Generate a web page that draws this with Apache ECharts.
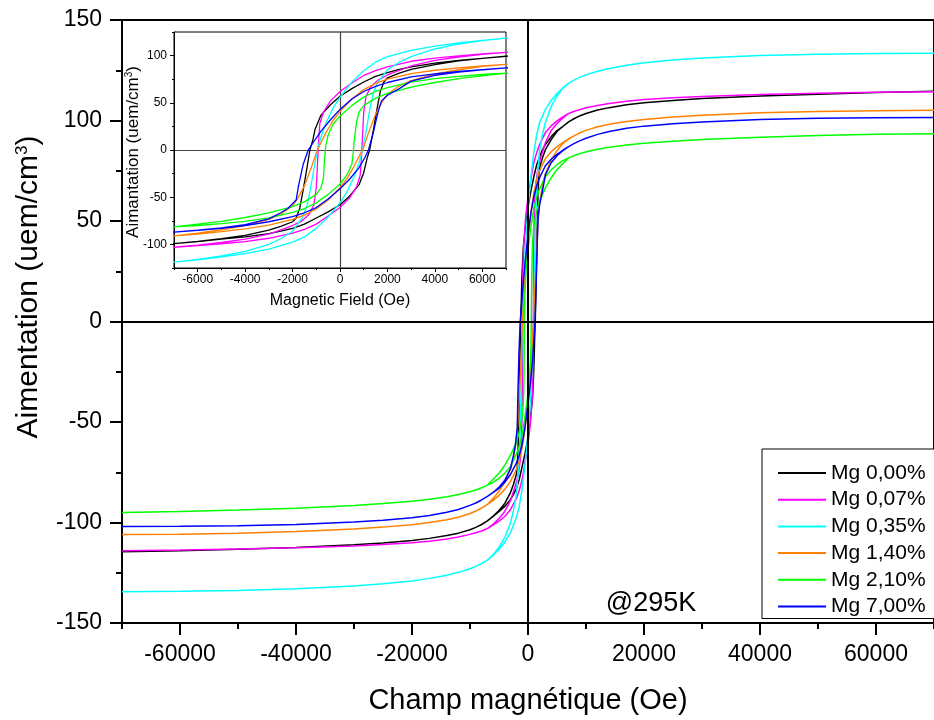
<!DOCTYPE html>
<html><head><meta charset="utf-8">
<script src="https://cdn.jsdelivr.net/npm/echarts@6/dist/echarts.min.js"></script>
<style>html,body{margin:0;padding:0;background:#fff}#c{width:934px;height:720px}</style>
</head><body><div id="c"></div>
<script>
// ---- data ----
const seriesNames = ['Mg 0,00%', 'Mg 0,07%', 'Mg 0,35%', 'Mg 1,40%', 'Mg 2,10%', 'Mg 7,00%'];

// high-field field values (Oe), shared by both branches
const hiField = [7000, 8000, 9000, 10000, 12000, 14000, 17000, 20000, 25000, 30000, 40000, 50000, 60000, 70000];
// magnetization at +hiField and at -hiField (uem/cm3)
const mg000_pos = [99.3, 101, 102.4, 103.5, 105.2, 106.4, 107.8, 108.8, 110, 110.9, 112.2, 113.1, 113.9, 114.5];
const mg000_neg = [-99.2, -101, -102.4, -103.6, -105.3, -106.5, -107.9, -108.9, -110.2, -111.1, -112.4, -113.3, -114, -114.5];
const mg007_pos = [103.5, 104.6, 105.5, 106.3, 107.5, 108.5, 109.6, 110.4, 111.3, 112, 112.9, 113.5, 114, 114.3];
const mg007_neg = [-103, -104.2, -105.1, -105.9, -107.2, -108.2, -109.3, -110.1, -111, -111.7, -112.6, -113.2, -113.7, -114];
const mg035_pos = [118.5, 120.2, 121.6, 122.7, 124.5, 125.9, 127.5, 128.7, 130.1, 131.1, 132.4, 133, 133.3, 133.5];
const mg035_neg = [-118.7, -120.4, -121.8, -123, -124.8, -126.2, -127.8, -129.1, -130.5, -131.6, -133, -133.8, -134.2, -134.5];
const mg140_pos = [90.8, 92.5, 93.9, 95.1, 96.9, 98.1, 99.5, 100.5, 101.7, 102.6, 103.8, 104.5, 104.9, 105.1];
const mg140_neg = [-91, -92.8, -94.3, -95.5, -97.4, -98.6, -100, -101.1, -102.3, -103.2, -104.5, -105.3, -105.8, -106];
const mg210_pos = [81.4, 82.6, 83.6, 84.4, 85.7, 86.7, 87.8, 88.7, 89.7, 90.5, 91.7, 92.5, 93.1, 93.4];
const mg210_neg = [-81.4, -82.7, -83.8, -84.7, -86.1, -87.2, -88.4, -89.4, -90.6, -91.5, -92.9, -93.8, -94.5, -95];
const mg700_pos = [87, 88.6, 90, 91.2, 93.1, 94.5, 96.1, 97.2, 98.4, 99.3, 100.5, 101.1, 101.4, 101.5];
const mg700_neg = [-87, -88.8, -90.3, -91.5, -93.5, -94.9, -96.5, -97.6, -98.9, -99.8, -101, -101.6, -101.9, -102];

// low-field branches [field, magnetization]: descending (from +6000) and ascending (from -6000)
const mg000_down = [[6000,97],[5000,95],[4000,92],[3000,88],[2500,85.5],[2000,82],[1500,78],[1000,72],[500,65],[0,57],[-400,48],[-800,37],[-1050,22],[-1150,10],[-1270,0],[-1400,-20],[-1550,-42],[-1700,-62],[-1850,-72],[-2000,-76],[-2500,-81],[-3000,-85],[-4000,-90.5],[-5000,-94],[-6000,-96.8]];
const mg000_up = [[-6000,-97],[-5000,-94.5],[-4000,-92],[-3000,-88.5],[-2500,-86],[-2000,-83],[-1500,-78.5],[-1000,-72],[-500,-65.5],[0,-58],[400,-49],[800,-37],[1000,-24],[1150,-8],[1250,0],[1400,20],[1550,42],[1700,62],[1850,72],[2000,76.5],[2500,81.5],[3000,85.5],[4000,90.5],[5000,94.5],[6000,97]];
const mg007_down = [[6000,101.8],[5000,99.8],[4000,97.3],[3000,94],[2000,88],[1500,84],[1000,79],[500,71],[0,62],[-400,52],[-700,40],[-850,28],[-900,10],[-950,-15],[-1000,-40],[-1100,-58],[-1300,-68],[-1600,-75],[-2000,-80],[-3000,-89],[-4000,-94.5],[-5000,-98],[-6000,-100.8]];
const mg007_up = [[-6000,-101.2],[-5000,-99.3],[-4000,-97],[-3000,-93.5],[-2000,-88],[-1500,-84],[-1000,-78.5],[-500,-70],[0,-61],[400,-51],[700,-39],[850,-27],[900,-10],[950,15],[1000,40],[1100,57],[1300,67],[1600,74],[2000,79.5],[3000,89],[4000,95],[5000,98.5],[6000,101.2]];
const mg035_down = [[6000,116.2],[5000,113.4],[4000,110],[3000,105.5],[2000,99],[1500,93],[1000,84],[500,72],[0,56],[-300,44],[-600,28],[-800,14],[-950,0],[-1100,-20],[-1250,-42],[-1400,-60],[-1600,-72],[-2000,-86],[-2500,-94],[-3000,-100],[-4000,-107.5],[-5000,-112.3],[-6000,-116]];
const mg035_up = [[-6000,-116.3],[-5000,-113.3],[-4000,-109.8],[-3000,-105],[-2000,-97.5],[-1500,-92],[-1000,-83],[-500,-71],[0,-56],[300,-44],[600,-28],[800,-14],[950,0],[1100,20],[1250,42],[1400,60],[1600,72],[2000,85],[2500,93],[3000,99],[4000,107],[5000,112.3],[6000,116]];
const mg140_down = [[6000,89],[5000,87],[4000,84.5],[3000,81],[2000,75],[1500,70.5],[1000,64],[500,54],[0,41],[-300,31],[-600,18],[-800,8],[-1000,-3],[-1200,-18],[-1500,-38],[-1800,-52],[-2000,-59],[-2500,-68],[-3000,-73.5],[-4000,-80],[-5000,-84.5],[-6000,-88]];
const mg140_up = [[-6000,-89],[-5000,-86.5],[-4000,-83.5],[-3000,-79.5],[-2000,-73.5],[-1500,-69],[-1000,-62.5],[-500,-53],[0,-40],[300,-30],[600,-17],[800,-7],[1000,3],[1200,18],[1500,38],[1800,52],[2000,59],[2500,68],[3000,73.5],[4000,80.5],[5000,85],[6000,88.5]];
const mg210_down = [[6000,80],[5000,78],[4000,75.5],[3000,72],[2000,66],[1500,62],[1000,56],[500,47],[0,36],[-300,27],[-500,16],[-600,5],[-650,-10],[-700,-30],[-800,-40],[-1000,-47],[-1500,-55],[-2000,-60],[-3000,-66.5],[-4000,-71.5],[-5000,-75.5],[-6000,-78.5]];
const mg210_up = [[-6000,-80],[-5000,-78],[-4000,-75.5],[-3000,-72],[-2000,-66],[-1500,-62],[-1000,-56],[-500,-47],[0,-36],[300,-26],[500,-15],[550,-5],[600,10],[700,30],[800,40],[1000,47],[1500,55],[2000,60],[3000,66.5],[4000,71.5],[5000,75.5],[6000,78.5]];
const mg700_down = [[6000,85.2],[5000,83.2],[4000,80.7],[3000,77.5],[2000,71.5],[1500,67.5],[1000,62],[500,54],[0,43],[-400,32],[-800,20],[-1100,9],[-1340,0],[-1550,-15],[-1750,-38],[-1850,-53],[-2200,-62],[-2500,-66.5],[-3000,-73],[-4000,-79],[-5000,-82.5],[-6000,-85]];
const mg700_up = [[-6000,-85],[-5000,-83],[-4000,-80],[-3000,-76],[-2000,-70.5],[-1500,-66.5],[-1000,-61],[-500,-52],[0,-41],[400,-31],[800,-19],[1050,-8],[1200,0],[1400,18],[1600,40],[1750,52],[2000,58],[2500,65],[3000,73],[4000,79],[5000,82.5],[6000,85]];

// ---- tick values ----
const mainXMajor = [-60000, -40000, -20000, 0, 20000, 40000, 60000];
const mainXMinor = [-70000, -50000, -30000, -10000, 10000, 30000, 50000, 70000];
const insetXMajor = [-6000, -4000, -2000, 0, 2000, 4000, 6000];
const insetXMinor = [-7000, -5000, -3000, -1000, 1000, 3000, 5000, 7000];
const insetYMajor = [-100, -50, 0, 50, 100];
const insetYMinor = [-125, -75, -25, 25, 75, 125];

// ---- build full loops: +70000 -> -70000 -> +70000 ----
function buildLoop(pos, neg, down, up) {
  const posPts = hiField.map((h, i) => [h, pos[i]]);
  const negPts = hiField.map((h, i) => [-h, neg[i]]);
  return [].concat(posPts.slice().reverse(), down, negPts, negPts.slice().reverse(), up, posPts);
}
const loops = [
  buildLoop(mg000_pos, mg000_neg, mg000_down, mg000_up),
  buildLoop(mg007_pos, mg007_neg, mg007_down, mg007_up),
  buildLoop(mg035_pos, mg035_neg, mg035_down, mg035_up),
  buildLoop(mg140_pos, mg140_neg, mg140_down, mg140_up),
  buildLoop(mg210_pos, mg210_neg, mg210_down, mg210_up),
  buildLoop(mg700_pos, mg700_neg, mg700_down, mg700_up)
];

// ---- styling ----
const colors = ['#000000', '#ff00ff', '#00ffff', '#ff8000', '#00ff00', '#0000ff'];
const FONT = '"Liberation Sans", Arial, sans-serif';
const plain = v => String(v);

const chart = echarts.init(document.getElementById('c'));

const zeroLines = (w, c) => ({
  silent: true, animation: false, symbol: ['none', 'none'], label: {show: false},
  lineStyle: {color: c, width: w, type: 'solid'}, emphasis: {disabled: true},
  data: [{xAxis: 0}, {yAxis: 0}]
});

const series = [];
loops.forEach((d, i) => {
  series.push({
    name: seriesNames[i], type: 'line', xAxisIndex: 0, yAxisIndex: 0, data: d,
    symbol: 'none', showSymbol: false, clip: true, silent: true, z: 3,
    lineStyle: {color: colors[i], width: 1.5}, itemStyle: {color: colors[i]},
    markLine: i === 0 ? zeroLines(2, '#000') : undefined
  });
});
loops.forEach((d, i) => {
  series.push({
    name: seriesNames[i], type: 'line', xAxisIndex: 2, yAxisIndex: 1, data: d,
    symbol: 'none', showSymbol: false, clip: true, silent: true, z: 6,
    lineStyle: {color: colors[i], width: 1.3}, itemStyle: {color: colors[i]},
    markLine: i === 0 ? zeroLines(1.2, '#444') : undefined
  });
});

const txt = {color: '#000', fontFamily: FONT};

chart.setOption({
  animation: false,
  backgroundColor: '#fff',
  grid: [
    {left: 122, top: 20, width: 816, height: 605, show: true, borderColor: '#000', borderWidth: 2, backgroundColor: 'transparent'},
    {left: 174, top: 32, width: 332, height: 236, show: true, borderColor: '#000', borderWidth: 1, backgroundColor: '#fff', z: 5}
  ],
  xAxis: [
    {gridIndex: 0, type: 'value', min: -70000, max: 70000, position: 'bottom',
     axisLine: {onZero: false, lineStyle: {color: '#000', width: 2}},
     axisTick: {customValues: mainXMajor, length: 12, lineStyle: {color: '#000', width: 2}},
     axisLabel: {customValues: mainXMajor, formatter: plain, ...txt, fontSize: 23, margin: 20},
     splitLine: {show: false},
     name: 'Champ magnétique (Oe)', nameLocation: 'middle', nameGap: 63,
     nameTextStyle: {...txt, fontSize: 29}},
    {gridIndex: 0, type: 'value', min: -70000, max: 70000, position: 'bottom',
     axisLine: {show: false, onZero: false},
     axisTick: {customValues: mainXMinor, length: 6, lineStyle: {color: '#000', width: 2}},
     axisLabel: {show: false}, splitLine: {show: false}},
    {gridIndex: 1, type: 'value', min: -7000, max: 7000, position: 'bottom', z: 6,
     axisLine: {onZero: false, lineStyle: {color: '#000', width: 1}},
     axisTick: {customValues: insetXMajor, length: 4, lineStyle: {color: '#000', width: 1}},
     axisLabel: {customValues: insetXMajor, formatter: plain, ...txt, fontSize: 12, margin: 6},
     splitLine: {show: false},
     name: 'Magnetic Field (Oe)', nameLocation: 'middle', nameGap: 25,
     nameTextStyle: {...txt, fontSize: 16}},
    {gridIndex: 1, type: 'value', min: -7000, max: 7000, position: 'bottom', z: 6,
     axisLine: {show: false, onZero: false},
     axisTick: {customValues: insetXMinor, length: 2, lineStyle: {color: '#000', width: 1}},
     axisLabel: {show: false}, splitLine: {show: false}}
  ],
  yAxis: [
    {gridIndex: 0, type: 'value', min: -150, max: 150, interval: 50, position: 'left',
     axisLine: {onZero: false, lineStyle: {color: '#000', width: 2}},
     axisTick: {length: 12, lineStyle: {color: '#000', width: 2}},
     minorTick: {show: true, splitNumber: 2, length: 6, lineStyle: {color: '#000', width: 2}},
     axisLabel: {formatter: plain, ...txt, fontSize: 23, margin: 20},
     splitLine: {show: false}, minorSplitLine: {show: false}},
    {gridIndex: 1, type: 'value', min: -125, max: 125, position: 'left', z: 6,
     axisLine: {onZero: false, lineStyle: {color: '#000', width: 1}},
     axisTick: {customValues: insetYMajor, length: 4, lineStyle: {color: '#000', width: 1}},
     axisLabel: {customValues: insetYMajor, formatter: plain, ...txt, fontSize: 12, margin: 7},
     splitLine: {show: false}},
    {gridIndex: 1, type: 'value', min: -125, max: 125, position: 'left', z: 6,
     axisLine: {show: false, onZero: false},
     axisTick: {customValues: insetYMinor, length: 2, lineStyle: {color: '#000', width: 1}},
     axisLabel: {show: false}, splitLine: {show: false}}
  ],
  legend: {
    data: seriesNames, orient: 'vertical', left: 762, top: 449,
    icon: 'rect', itemWidth: 48, itemHeight: 2, itemGap: 4.7,
    padding: [13, 20, 1, 16], borderColor: '#000', borderWidth: 1, backgroundColor: '#fff',
    textStyle: {...txt, fontSize: 21, lineHeight: 22}, selectedMode: false
  },
  graphic: [
    {type: 'text', x: 29, y: 287, rotation: Math.PI / 2, z: 10,
     style: {text: 'Aimentation (uem/cm{sup|3})', fill: '#000', fontFamily: FONT, fontSize: 30,
             textAlign: 'center', textVerticalAlign: 'middle',
             rich: {sup: {fontSize: 17, fontFamily: FONT, fill: '#000', verticalAlign: 'top', lineHeight: 30}}}},
    {type: 'text', x: 133, y: 152, rotation: Math.PI / 2, z: 10,
     style: {text: 'Aimantation (uem/cm{sup|3})', fill: '#000', fontFamily: FONT, fontSize: 17,
             textAlign: 'center', textVerticalAlign: 'middle',
             rich: {sup: {fontSize: 10, fontFamily: FONT, fill: '#000', verticalAlign: 'top', lineHeight: 17}}}},
    {type: 'text', x: 651, y: 604, z: 10,
     style: {text: '@295K', fill: '#000', fontFamily: FONT, fontSize: 27,
             textAlign: 'center', textVerticalAlign: 'middle'}}
  ],
  series: series
});
</script></body></html>
